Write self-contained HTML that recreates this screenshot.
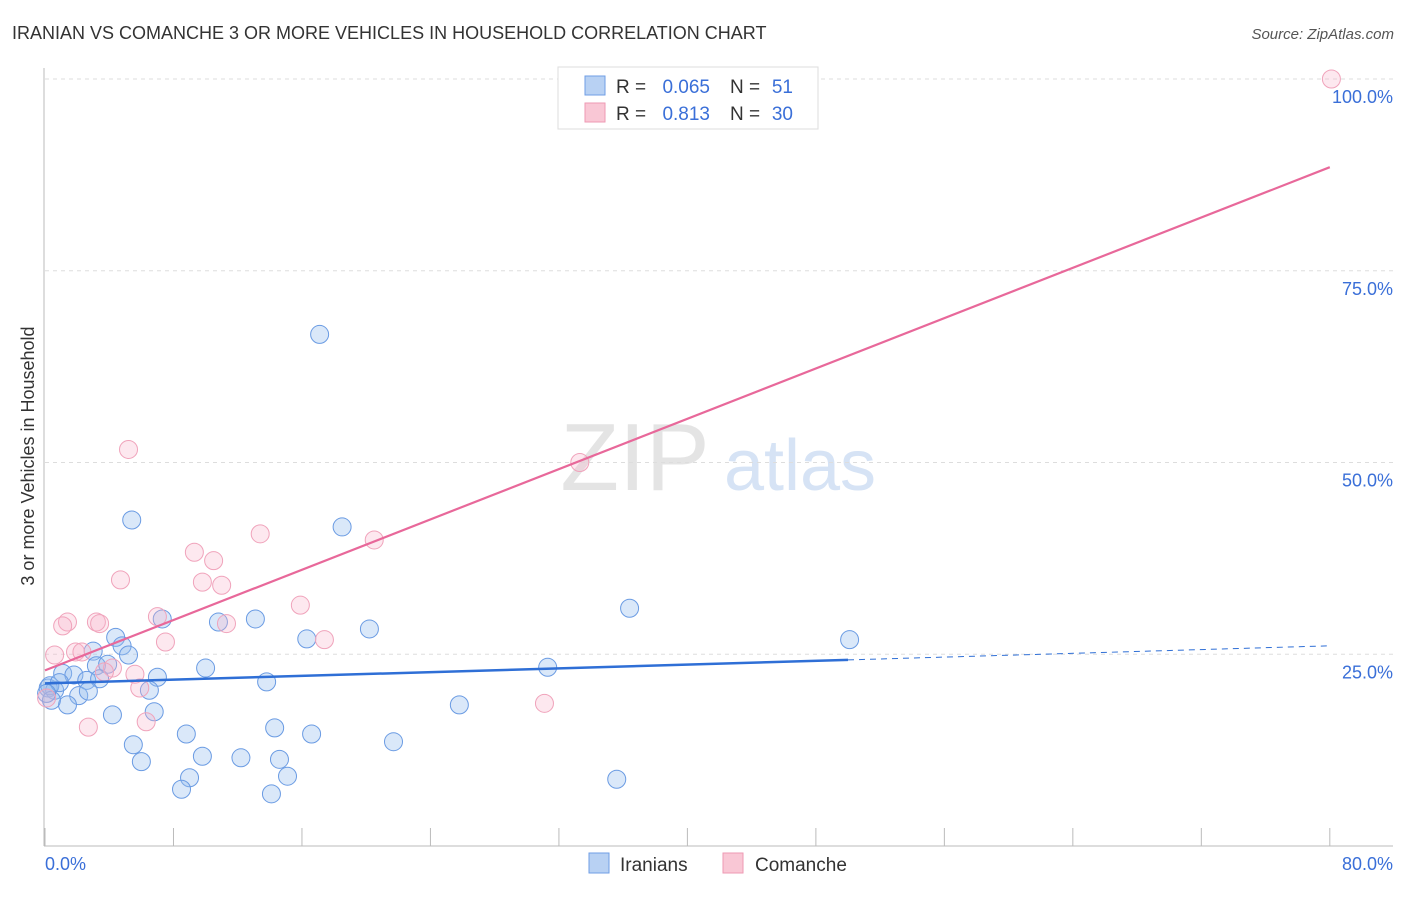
<!DOCTYPE html>
<html><head><meta charset="utf-8"><style>
body{margin:0;background:#fff;font-family:"Liberation Sans",sans-serif;}
svg text{font-family:"Liberation Sans",sans-serif;}
</style></head><body>
<svg width="1406" height="892" viewBox="0 0 1406 892" xmlns="http://www.w3.org/2000/svg">
<text x="12" y="39" font-size="18" fill="#333">IRANIAN VS COMANCHE 3 OR MORE VEHICLES IN HOUSEHOLD CORRELATION CHART</text>
<text x="1394" y="39" font-size="15" fill="#555" text-anchor="end" font-style="italic">Source: ZipAtlas.com</text>
<text x="635" y="490" font-size="96" fill="#e4e4e4" font-family="Liberation Serif" text-anchor="middle">ZIP</text>
<text x="800" y="490" font-size="72" fill="#d6e3f5" text-anchor="middle">atlas</text>
<g id="grid"></g>
<g id="axes"></g>
<g id="pts"></g>
<g id="lines"></g>
<text transform="translate(34,456) rotate(-90)" font-size="18" fill="#333" text-anchor="middle">3 or more Vehicles in Household</text>
<text x="45" y="870" font-size="18" fill="#3a6fd8">0.0%</text>
<text x="1393" y="870" font-size="18" fill="#3a6fd8" text-anchor="end">80.0%</text>
<g>
<rect x="558" y="67" width="260" height="62" fill="#fff" stroke="#ddd"/>
<rect x="585" y="76" width="20" height="19" fill="#b8d1f3" stroke="#6f9ee6"/>
<rect x="585" y="103" width="20" height="19" fill="#f9c7d5" stroke="#ee9ab3"/>
<text x="616" y="93" font-size="19" fill="#333">R =</text>
<text x="710" y="93" font-size="19" fill="#3a6fd8" text-anchor="end">0.065</text>
<text x="730" y="93" font-size="19" fill="#333">N =</text>
<text x="793" y="93" font-size="19" fill="#3a6fd8" text-anchor="end">51</text>
<text x="616" y="120" font-size="19" fill="#333">R =</text>
<text x="710" y="120" font-size="19" fill="#3a6fd8" text-anchor="end">0.813</text>
<text x="730" y="120" font-size="19" fill="#333">N =</text>
<text x="793" y="120" font-size="19" fill="#3a6fd8" text-anchor="end">30</text>
</g>
<g>
<rect x="589" y="853" width="20" height="20" fill="#b8d1f3" stroke="#6f9ee6"/>
<text x="620" y="871" font-size="19" fill="#333">Iranians</text>
<rect x="723" y="853" width="20" height="20" fill="#f9c7d5" stroke="#ee9ab3"/>
<text x="755" y="871" font-size="19" fill="#333">Comanche</text>
</g>
</svg>
<script>
const yTicks=[25,50,75,100];
const yTickLabels=["25.0%","50.0%","75.0%","100.0%"];
const xTicks=[0,8,16,24,32,40,48,56,64,72,80];
const iranX=[17.1,5.4,18.5,36.4,50.1,7.3,10.8,13.1,16.3,20.2,4.4,3.0,4.8,5.2,3.2,3.9,1.1,1.8,2.6,3.4,7.0,10.0,31.3,0.2,0.6,0.3,2.1,1.4,6.5,13.8,6.8,4.2,25.8,8.8,14.3,16.6,21.7,5.5,6.0,9.8,12.2,14.6,9.0,15.1,8.5,14.1,35.6,0.9,2.7,0.4,0.1];
const iranY=[66.7,42.5,41.6,31.0,26.9,29.6,29.2,29.6,27.0,28.3,27.2,25.4,26.1,24.9,23.5,23.7,22.5,22.3,21.6,21.8,22.0,23.2,23.3,20.6,20.3,20.9,19.6,18.4,20.3,21.4,17.5,17.1,18.4,14.6,15.4,14.6,13.6,13.2,11.0,11.7,11.5,11.3,8.9,9.1,7.4,6.8,8.7,21.3,20.2,19.0,19.9];
const comX=[80.1,5.2,33.3,13.4,20.5,9.3,10.5,9.8,11.0,4.7,7.0,15.9,1.4,1.1,3.2,3.4,7.5,11.3,17.4,0.6,1.9,2.3,4.2,3.7,5.6,5.9,31.1,6.3,2.7,0.1];
const comY=[100,51.7,50.0,40.7,39.9,38.3,37.2,34.4,34.0,34.7,29.9,31.4,29.2,28.7,29.2,29.0,26.6,29.0,26.9,24.9,25.3,25.3,23.2,22.7,22.4,20.6,18.6,16.2,15.5,19.3];
const iranLine=[21.2,26.1], comLine=[22.9,88.5];
const NS="http://www.w3.org/2000/svg";
const X=v=>45+v*16.06, Y=v=>846-v*7.67;
function mk(t,a,p){const e=document.createElementNS(NS,t);for(const k in a)e.setAttribute(k,a[k]);document.getElementById(p).appendChild(e);return e;}
yTicks.forEach((t,i)=>{
 const g=mk('line',{x1:45,x2:1393,y1:Y(t),y2:Y(t),stroke:'#ddd','stroke-dasharray':'4,4'},'grid');
 
 
 const l=mk('text',{x:1393,y:Y(t)+24,'font-size':18,fill:'#3a6fd8','text-anchor':'end'},'axes');
 l.textContent=yTickLabels[i];
 
 
});
const ax=mk('line',{x1:44,x2:44,y1:68,y2:846,stroke:'#bbb'},'axes');


const bx=mk('line',{x1:44,x2:1393,y1:846,y2:846,stroke:'#bbb'},'axes');


xTicks.forEach(t=>{
 const e=mk('line',{x1:X(t),x2:X(t),y1:828,y2:846,stroke:'#bbb'},'axes');
 
 
});
iranX.forEach((x,i)=>{
 const c=mk('circle',{cx:X(x),cy:Y(iranY[i]),r:9,fill:'rgba(150,188,238,0.35)',stroke:'#6a9be3','stroke-width':1},'pts');
 
 
});
comX.forEach((x,i)=>{
 const c=mk('circle',{cx:X(x),cy:Y(comY[i]),r:9,fill:'rgba(247,180,202,0.3)',stroke:'#f0a3bb','stroke-width':1},'pts');
 
 
});
const xs=50;
const ys=iranLine[0]+(iranLine[1]-iranLine[0])*xs/80;
const b1=mk('line',{x1:X(0),y1:Y(iranLine[0]),x2:X(xs),y2:Y(ys),stroke:'#2f6fd6','stroke-width':2.5},'lines');


const b2=mk('line',{x1:X(xs),y1:Y(ys),x2:X(80),y2:Y(iranLine[1]),stroke:'#2f6fd6','stroke-width':1,'stroke-dasharray':'6,5'},'lines');


const p1=mk('line',{x1:X(0),y1:Y(comLine[0]),x2:X(80),y2:Y(comLine[1]),stroke:'#e8689a','stroke-width':2.2},'lines');


</script>
</body></html>
